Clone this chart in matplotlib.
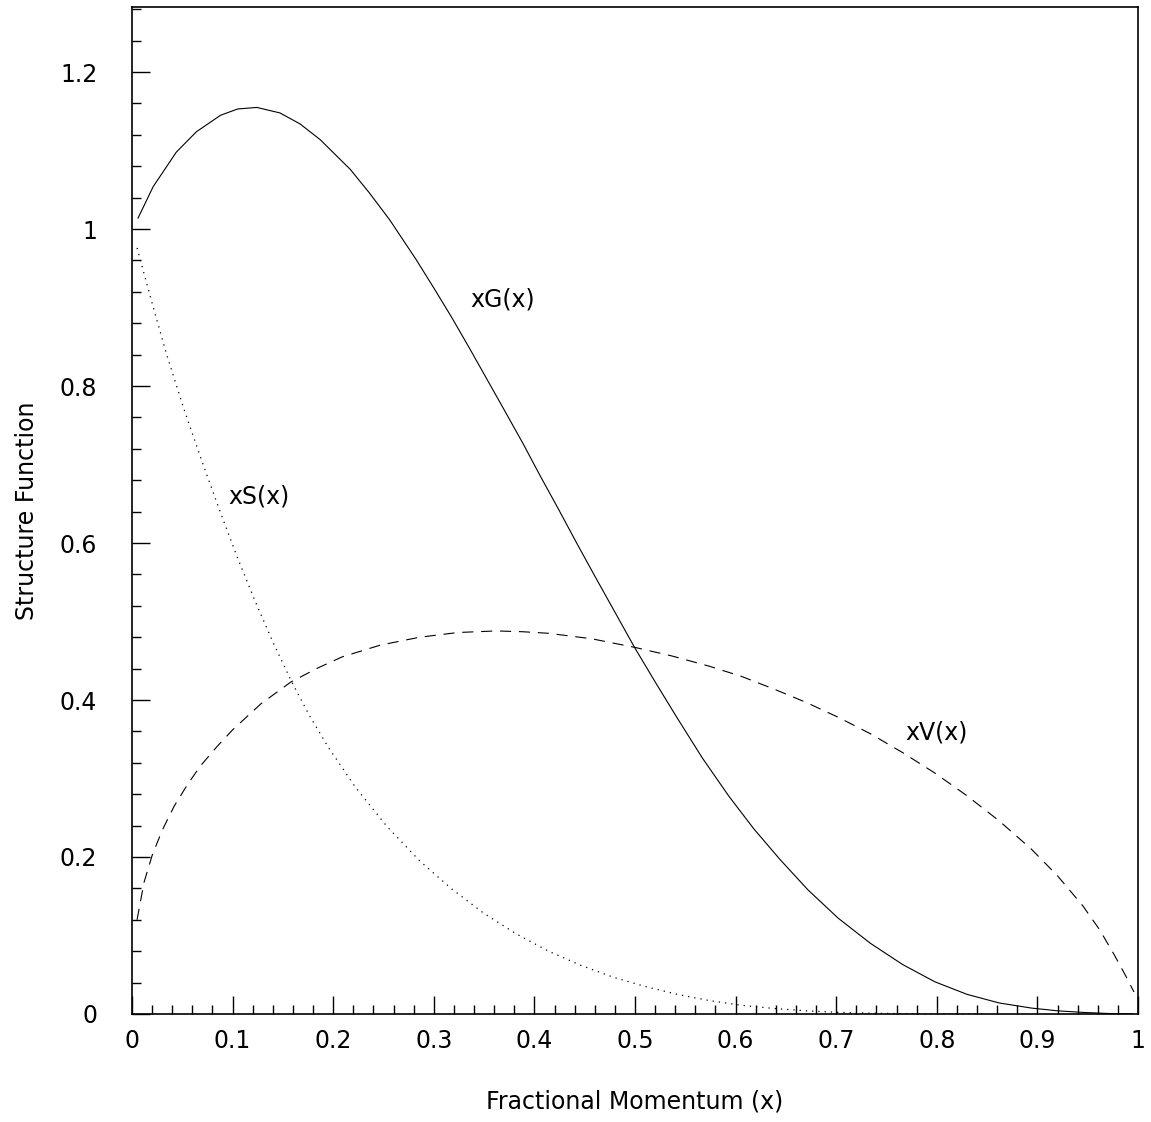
import numpy as np
import matplotlib
matplotlib.use("Agg")
import matplotlib.pyplot as plt
from matplotlib.ticker import MultipleLocator

plt.rcParams.update({'font.size': 17, 'font.family': 'DejaVu Sans'})

# values
xg_x = [0.006, 0.021, 0.044, 0.064, 0.088, 0.105, 0.124, 0.147, 0.167, 0.187,
        0.217, 0.236, 0.256, 0.282, 0.300, 0.318, 0.336, 0.354, 0.372, 0.389,
        0.406, 0.424, 0.442, 0.460, 0.480, 0.500, 0.521, 0.542, 0.567, 0.593,
        0.618, 0.644, 0.672, 0.702, 0.734, 0.766, 0.798, 0.830, 0.862, 0.894,
        0.920, 0.945, 0.970, 0.995]
xg_y = [1.014, 1.054, 1.098, 1.124, 1.145, 1.153, 1.155, 1.148, 1.134, 1.114,
        1.076, 1.046, 1.012, 0.962, 0.925, 0.887, 0.847, 0.806, 0.765, 0.726,
        0.685, 0.643, 0.600, 0.558, 0.512, 0.466, 0.421, 0.377, 0.326, 0.278,
        0.236, 0.197, 0.158, 0.122, 0.090, 0.063, 0.041, 0.025, 0.014, 0.0075,
        0.004, 0.002, 0.0006, 0.0]

xs_x = [0.005, 0.019, 0.034, 0.051, 0.069, 0.087, 0.104, 0.122, 0.140, 0.158,
        0.176, 0.195, 0.222, 0.254, 0.286, 0.318, 0.350, 0.382, 0.414, 0.446,
        0.478, 0.510, 0.542, 0.574, 0.606, 0.638, 0.670, 0.702, 0.734, 0.766,
        0.800, 0.850]
xs_y = [0.976, 0.910, 0.842, 0.773, 0.706, 0.642, 0.584, 0.527, 0.474, 0.425,
        0.381, 0.340, 0.289, 0.238, 0.195, 0.159, 0.128, 0.102, 0.080, 0.062,
        0.047, 0.035, 0.025, 0.017, 0.011, 0.007, 0.004, 0.002, 0.001, 0.0004,
        0.0001, 0.0]

xv_x = [0.005, 0.012, 0.020, 0.030, 0.042, 0.055, 0.068, 0.084, 0.100, 0.128,
        0.158, 0.185, 0.209, 0.247, 0.286, 0.324, 0.362, 0.388, 0.414, 0.457,
        0.500, 0.537, 0.574, 0.606, 0.638, 0.670, 0.702, 0.734, 0.766, 0.798,
        0.830, 0.862, 0.894, 0.920, 0.945, 0.962, 0.977, 0.988, 0.996]
xv_y = [0.120, 0.168, 0.202, 0.234, 0.265, 0.292, 0.316, 0.340, 0.362, 0.395,
        0.423, 0.441, 0.455, 0.470, 0.480, 0.486, 0.488, 0.487, 0.485, 0.478,
        0.467, 0.456, 0.443, 0.430, 0.414, 0.397, 0.378, 0.357, 0.333, 0.307,
        0.278, 0.246, 0.210, 0.176, 0.138, 0.107, 0.074, 0.048, 0.028]

labels = ["xG(x)", "xS(x)", "xV(x)"]
label_pos = [(0.336, 0.91), (0.0955, 0.659), (0.769, 0.358)]

fig = plt.figure(figsize=(11.51, 11.22), dpi=100)
ax = fig.add_axes([0.1147, 0.0963, 0.874, 0.8975])

ax.plot(xg_x, xg_y, color='k', lw=0.8)
ax.plot(xs_x, xs_y, color='k', lw=0.9, linestyle=(0, (1, 4)))
ax.plot(xv_x, xv_y, color='k', lw=0.8, linestyle=(0, (10, 7)))

for txt, (lx, ly) in zip(labels, label_pos):
    ax.text(lx, ly, txt, ha='left', va='center', fontsize=17)

ax.set_xlim(0, 1)
ax.set_ylim(0, 1.283)
ax.xaxis.set_major_locator(MultipleLocator(0.1))
ax.xaxis.set_minor_locator(MultipleLocator(0.02))
ax.yaxis.set_major_locator(MultipleLocator(0.2))
ax.yaxis.set_minor_locator(MultipleLocator(0.04))
ax.xaxis.set_major_formatter(lambda v, p: '%g' % round(v, 2))
ax.yaxis.set_major_formatter(lambda v, p: '%g' % round(v, 2))

ax.tick_params(which='major', direction='in', length=13, width=1,
               top=False, right=False, labelsize=17)
ax.tick_params(which='minor', direction='in', length=6.5, width=1,
               top=False, right=False)
ax.tick_params(axis='x', which='major', pad=11)
ax.tick_params(axis='y', which='major', pad=25)
for s in ax.spines.values():
    s.set_linewidth(1.2)

ax.set_xlabel('Fractional Momentum (x)', fontsize=17, labelpad=26)
ax.set_ylabel('Structure Function', fontsize=17, labelpad=15)

fig.savefig('out.png', dpi=100)
